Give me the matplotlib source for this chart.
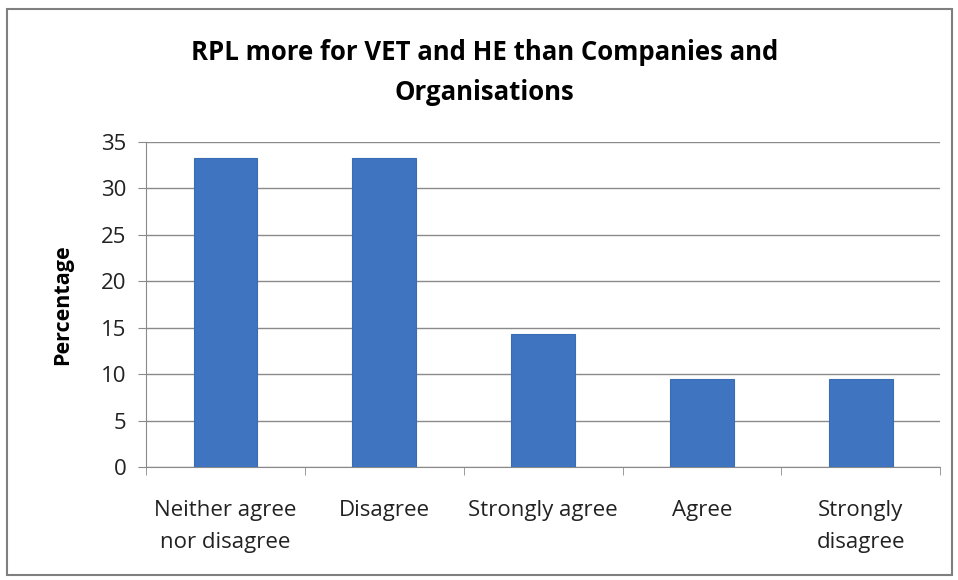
import matplotlib.pyplot as plt
from matplotlib.patches import Rectangle
import numpy as np

categories = ['Neither agree\nnor disagree', 'Disagree', 'Strongly agree', 'Agree', 'Strongly\ndisagree']
percentages = [33.3, 33.3, 14.3, 9.5, 9.5]
y_ticks = [0, 5, 10, 15, 20, 25, 30, 35]

plt.rcParams['font.family'] = ['Open Sans', 'DejaVu Sans']

fig = plt.figure(figsize=(9.58, 5.8), dpi=100)
ax = fig.add_axes([0.1524, 0.1948, 0.829, 0.5603])

x = np.arange(len(categories))
ax.bar(x, percentages, width=0.4, color='#3f74c0', edgecolor='#3a6cb5', linewidth=0.8, zorder=3)

ax.set_xlim(-0.5, len(categories) - 0.5)
ax.set_ylim(0, 35)
ax.set_yticks(y_ticks)
ax.yaxis.grid(True, color='#8a8a8a', linewidth=1.0, zorder=0)
ax.set_xticks(x)
ax.set_xticklabels(categories, fontsize=16, color='#222222', linespacing=1.65)
ax.set_xticks(np.arange(-0.5, len(categories)), minor=True)
ax.tick_params(axis='x', which='major', length=0, pad=24)
ax.tick_params(axis='x', which='minor', length=6, color='#8a8a8a')
ax.tick_params(axis='y', length=6, color='#8a8a8a', labelsize=16, labelcolor='#222222', pad=8)

for side in ['top', 'right']:
    ax.spines[side].set_visible(False)
for side in ['left', 'bottom']:
    ax.spines[side].set_color('#8a8a8a')

ax.set_ylabel('Percentage', fontsize=15.5, fontweight='bold', labelpad=20)
fig.text(0.506, 0.875, 'RPL more for VET and HE than Companies and\nOrganisations',
         ha='center', va='center', fontsize=18.5, fontweight='bold', linespacing=1.6)

# outer chart border
fig.patches.append(Rectangle((0.007, 0.008), 0.987, 0.977, transform=fig.transFigure,
                             fill=False, edgecolor='#7f7f7f', linewidth=1.5))

fig.savefig('out.png', dpi=100)
